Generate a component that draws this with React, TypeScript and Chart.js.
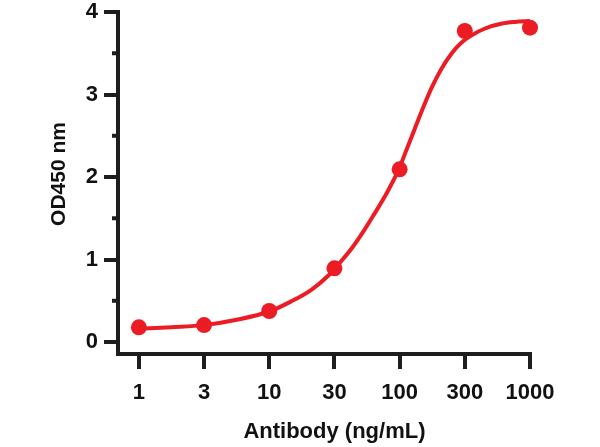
import React, { useEffect, useRef } from "react";
import { Chart, registerables } from "chart.js";

Chart.register(...registerables);

// Concentration categories (ng/mL), placed at evenly spaced positions 0..6
const xLabels = ["1", "3", "10", "30", "100", "300", "1000"];
const xPositions = [0, 1, 2, 3, 4, 5, 6];
// Measured OD450 values
const odValues = [0.178, 0.206, 0.376, 0.893, 2.093, 3.77, 3.81];
// Fitted curve (position, OD450)
const curveX = [0, 0.5, 1, 1.5, 2, 2.33, 2.64, 2.9, 3.06, 3.26, 3.46, 3.61, 3.77, 3.98, 4.13, 4.23, 4.34, 4.49, 4.64, 4.8, 4.95, 5.11, 5.31, 5.57, 5.77, 6];
const curveY = [0.16, 0.18, 0.205, 0.27, 0.37, 0.49, 0.63, 0.8, 0.94, 1.13, 1.36, 1.55, 1.76, 2.08, 2.38, 2.58, 2.8, 3.08, 3.31, 3.5, 3.63, 3.72, 3.8, 3.86, 3.88, 3.89];
const yTicks = [0, 1, 2, 3, 4];
const yMinorTicks = [0.5, 1.5, 2.5, 3.5];

const xTitle = "Antibody (ng/mL)";
const yTitle = "OD450 nm";

const RED = "#ec1c24";
const AXIS = "#1e1e1e";
const FONT = "'Liberation Sans', Arial, sans-serif";

export default function App() {
  const ref = useRef<HTMLCanvasElement | null>(null);

  useEffect(() => {
    if (!ref.current) return;

    const extras = {
      id: "extras",
      afterDraw(chart: any) {
        const { ctx, scales } = chart;
        const x = scales.x;
        const y = scales.y;
        ctx.save();
        // minor y ticks
        ctx.strokeStyle = AXIS;
        ctx.lineWidth = 4;
        yMinorTicks.forEach((v) => {
          const py = y.getPixelForValue(v);
          ctx.beginPath();
          ctx.moveTo(chart.chartArea.left - 6, py);
          ctx.lineTo(chart.chartArea.left, py);
          ctx.stroke();
        });
        // axis titles
        ctx.fillStyle = "#111";
        ctx.textAlign = "center";
        ctx.textBaseline = "middle";
        ctx.font = `bold 22px ${FONT}`;
        const cx = (x.getPixelForValue(xPositions[0]) + x.getPixelForValue(xPositions[xPositions.length - 1])) / 2;
        ctx.fillText(xTitle, cx, 432);
        ctx.font = `bold 21px ${FONT}`;
        ctx.translate(59, 174);
        ctx.rotate(-Math.PI / 2);
        ctx.fillText(yTitle, 0, 0);
        ctx.restore();
      },
    };

    const chart = new Chart(ref.current, {
      type: "scatter",
      data: {
        datasets: [
          {
            label: "fit",
            data: curveX.map((v, i) => ({ x: v, y: curveY[i] })),
            showLine: true,
            borderColor: RED,
            borderWidth: 4,
            pointRadius: 0,
            cubicInterpolationMode: "monotone",
            fill: false,
            clip: false,
          },
          {
            label: "OD450",
            data: xPositions.map((v, i) => ({ x: v, y: odValues[i] })),
            showLine: false,
            backgroundColor: RED,
            borderColor: RED,
            pointRadius: 8,
            borderWidth: 0,
            clip: false,
          },
        ],
      },
      options: {
        responsive: false,
        animation: false,
        layout: { padding: { top: 12, right: 70, left: 0, bottom: 0 } },
        plugins: { legend: { display: false }, tooltip: { enabled: false } },
        scales: {
          x: {
            type: "linear",
            min: -0.32,
            max: 6,
            afterFit: (s: any) => {
              s.height = 93;
            },
            afterBuildTicks: (s: any) => {
              s.ticks = xPositions.map((v) => ({ value: v }));
            },
            ticks: {
              callback: (v: any) => xLabels[Math.round(Number(v))] ?? "",
              color: "#111",
              font: { family: FONT, size: 22, weight: "bold", lineHeight: 1 },
              padding: 13,
              maxRotation: 0,
              autoSkip: false,
            },
            grid: {
              drawOnChartArea: false,
              color: AXIS,
              lineWidth: 4,
              tickLength: 15,
            },
            border: { color: AXIS, width: 4 },
          },
          y: {
            type: "linear",
            min: -0.145,
            max: 4,
            afterFit: (s: any) => {
              s.width = 118;
            },
            afterBuildTicks: (s: any) => {
              s.ticks = yTicks.map((v) => ({ value: v }));
            },
            ticks: {
              color: "#111",
              font: { family: FONT, size: 22, weight: "bold", lineHeight: 0.5 },
              padding: 6,
            },
            grid: {
              drawOnChartArea: false,
              color: AXIS,
              lineWidth: 4,
              tickLength: 14,
            },
            border: { color: AXIS, width: 4 },
          },
        },
      },
      plugins: [extras],
    } as any);

    return () => chart.destroy();
  }, []);

  return (
    <div style={{ position: "fixed", left: 0, top: 0, width: 600, height: 447, background: "#fff" }}>
      <canvas ref={ref} width={600} height={447} />
    </div>
  );
}
